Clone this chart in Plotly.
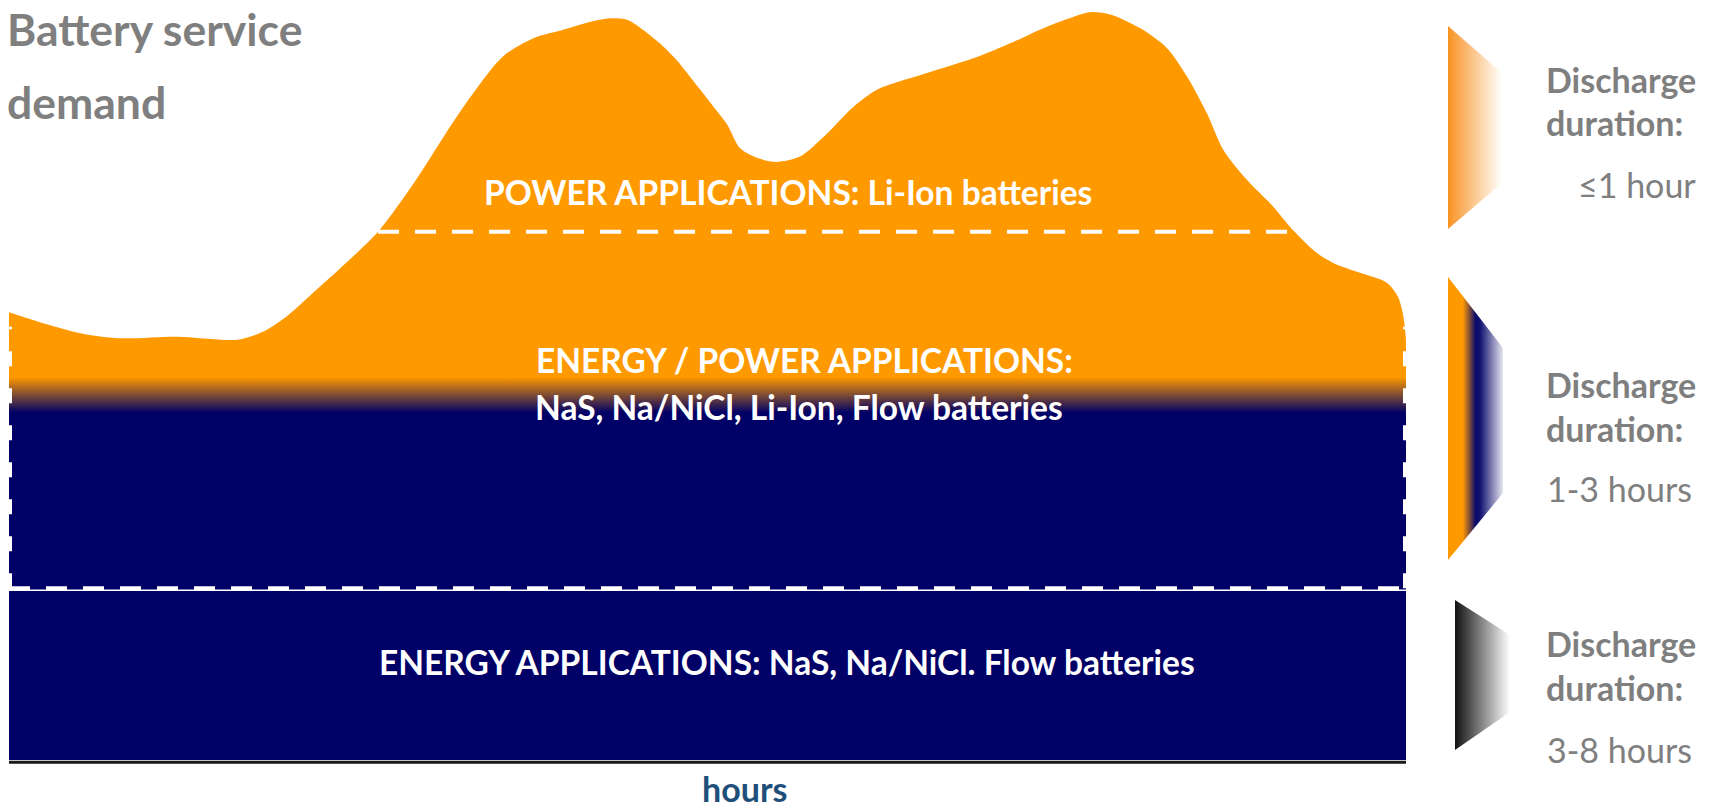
import numpy as np
import plotly.graph_objects as go

W, H = 1716, 807

# ---------------- data ----------------
hours = [0.00, 0.53, 1.20, 1.89, 2.90, 3.92, 4.35, 4.74, 5.17, 5.69, 6.34, 6.99, 7.75, 8.49,
         9.05, 9.48, 10.03, 10.32, 10.62, 10.89, 11.18, 11.48, 11.75, 12.09, 12.34, 12.56,
         12.90, 13.19, 13.59, 14.05, 14.50, 14.91, 15.77, 16.63, 17.20, 17.71, 18.18, 18.57,
         18.92, 19.43, 19.89, 20.24, 20.58, 20.86, 21.27, 21.72, 22.06, 22.47, 22.75, 23.21,
         23.67, 23.86, 23.95, 24.00]
demand = [58.9, 57.6, 56.2, 55.5, 55.7, 55.3, 56.3, 58.2, 61.1, 64.7, 69.5, 76.3, 85.3, 92.6,
          95.1, 96.0, 97.2, 97.6, 97.4, 96.1, 94.3, 92.0, 89.4, 86.1, 83.6, 80.5,
          79.1, 78.7, 79.4, 82.4, 85.9, 88.2, 90.4, 92.5, 94.3, 96.1, 97.5, 98.4,
          98.1, 96.3, 93.7, 89.9, 85.1, 80.3, 76.3, 72.8, 69.7, 66.7, 65.4, 64.1,
          62.8, 61.0, 58.6, 55.3]

energy_top = 22.6        # energy applications band upper limit
blend_low = 45.7         # energy/power blend start
blend_high = 50.4        # energy/power blend end
power_floor = 69.5       # power applications lower limit
edge_top = 57.0

band_labels = ["POWER APPLICATIONS: Li-Ion batteries",
               "ENERGY / POWER APPLICATIONS:",
               "NaS, Na/NiCl, Li-Ion, Flow batteries",
               "ENERGY APPLICATIONS: NaS, Na/NiCl. Flow batteries"]
duration_labels = ["\u22641 hour", "1-3 hours", "3-8 hours"]
title_lines = ["Battery service", "demand"]
x_title = "hours"

# ---------------- style ----------------
ORANGE = "#FF9900"
NAVY = "#000066"
GREY = "#7F7F7F"
FONT = "Lato"

PX_LEFT, PX_RIGHT = 9, 1406
PX_ZERO, PX_PER_UNIT = 760, 7.6
X_RANGE = [0, 24]
Y_RANGE = [-2, PX_ZERO / PX_PER_UNIT]


def P(px, py):
    return px / W, 1 - py / H


fig = go.Figure()

# main demand area with vertical blend navy -> orange
fig.add_trace(go.Scatter(
    x=hours, y=demand, mode="lines",
    line=dict(width=0, shape="spline", smoothing=0.8, color=ORANGE),
    fill="tozeroy",
    fillgradient=dict(type="vertical", start=0, stop=100,
                      colorscale=[[0, NAVY], [blend_low / 100, NAVY],
                                  [blend_high / 100, ORANGE], [1, ORANGE]]),
    hoverinfo="skip", showlegend=False))

h = np.array(hours)
d = np.array(demand)
i_min = int(np.argmin(d[:10]))
i_pk1 = int(np.argmax(d[:20]))
i_pk2 = int(np.argmax(d))
x_left = float(np.interp(power_floor, d[i_min:i_pk1 + 1], h[i_min:i_pk1 + 1]))
x_right = float(np.interp(power_floor, d[i_pk2:][::-1], h[i_pk2:][::-1]))

dash = "21px,16px"
# top dashed line (power floor)
fig.add_trace(go.Scatter(x=[x_left, x_right], y=[power_floor, power_floor], mode="lines",
                         line=dict(color="white", width=4, dash=dash),
                         hoverinfo="skip", showlegend=False))
# energy band dashed line
fig.add_trace(go.Scatter(x=X_RANGE, y=[energy_top - 0.25, energy_top - 0.25], mode="lines",
                         line=dict(color="white", width=1.5),
                         hoverinfo="skip", showlegend=False))
fig.add_trace(go.Scatter(x=X_RANGE, y=[energy_top, energy_top], mode="lines",
                         line=dict(color="white", width=4, dash=dash),
                         hoverinfo="skip", showlegend=False))
# vertical dashed edges
for xe in X_RANGE:
    fig.add_trace(go.Scatter(x=[xe, xe], y=[energy_top, edge_top], mode="lines",
                             line=dict(color="white", width=6, dash="15px,22px"),
                             hoverinfo="skip", showlegend=False))
# baseline
fig.add_trace(go.Scatter(x=X_RANGE, y=[-0.3, -0.3], mode="lines",
                         line=dict(color="#1a1a1a", width=3),
                         hoverinfo="skip", showlegend=False))

# ---------------- legend trapezoids (pixel axis) ----------------
traps = [
    dict(xl=1448, xr=1502, yl=(26, 229), yr=(73, 183),
         cs=[[0, "#F7931E"], [0.12, "#F9A040"], [1, "#FFFFFF"]]),
    dict(xl=1448, xr=1503, yl=(277, 560), yr=(348, 493),
         cs=[[0, "#FF9900"], [0.27, "#FF9900"], [0.40, "#7A4A3A"], [0.50, "#0A0A6A"],
             [0.58, "#101070"], [1, "#E6E6F0"]]),
    dict(xl=1455, xr=1510, yl=(600, 750), yr=(635, 712),
         cs=[[0, "#111111"], [1, "#FFFFFF"]]),
]
for t in traps:
    fig.add_trace(go.Scatter(
        x=[t["xl"], t["xr"], t["xr"], t["xl"], t["xl"]],
        y=[t["yl"][0], t["yr"][0], t["yr"][1], t["yl"][1], t["yl"][0]],
        mode="lines", line=dict(width=0), fill="toself",
        fillgradient=dict(type="horizontal", start=t["xl"], stop=t["xr"], colorscale=t["cs"]),
        xaxis="x2", yaxis="y2", hoverinfo="skip", showlegend=False))

# ---------------- annotations ----------------
ann = []


def add_text(text, px, py, size, color, xanchor="center", bold=True,
             box_h=None, yanchor="middle", valign="middle"):
    x, y = P(px, py)
    a = dict(text=f"<b>{text}</b>" if bold else text, x=x, y=y, xref="paper", yref="paper",
             xanchor=xanchor, yanchor=yanchor, showarrow=False,
             font=dict(family=FONT, size=size, color=color))
    if box_h:
        a["height"] = box_h
        a["borderpad"] = 0
        a["valign"] = valign
    ann.append(a)


add_text(title_lines[0], 5, 0, 44.5, GREY, "left", yanchor="top")
add_text(title_lines[1], 5, 102, 44.5, GREY, "left")
add_text(band_labels[0], 788, 192, 33.5, "white")
add_text(band_labels[1], 804, 360, 33.5, "white")
add_text(band_labels[2], 799, 407, 33.5, "white")
add_text(band_labels[3], 787, 662, 33.5, "white")
add_text(x_title, 744, 788, 34, "#1F4E79", box_h=28)

legend_rows = [(80, 122, 184, "right", 1698), (384, 428, 489, "left", 1545), (643, 687, 749, "left", 1545)]
for lab, (y1, y2, y3, anc, xx) in zip(duration_labels, legend_rows):
    add_text("Discharge", 1544, y1, 34, GREY, "left")
    add_text("duration:", 1544, y2, 34, GREY, "left")
    add_text(lab, xx, y3, 34, GREY, anc, bold=False)

fig.update_layout(
    width=W, height=H, margin=dict(l=0, r=0, t=0, b=0),
    paper_bgcolor="white", plot_bgcolor="rgba(0,0,0,0)",
    showlegend=False, annotations=ann,
    xaxis=dict(range=X_RANGE, domain=[PX_LEFT / W, PX_RIGHT / W], visible=False, fixedrange=True),
    yaxis=dict(range=Y_RANGE,
               domain=[1 - (PX_ZERO - Y_RANGE[0] * PX_PER_UNIT) / H, 1.0],
               visible=False, fixedrange=True),
    xaxis2=dict(range=[0, W], domain=[0, 1], visible=False, anchor="y2", fixedrange=True),
    yaxis2=dict(range=[H, 0], domain=[0, 1], visible=False, anchor="x2", fixedrange=True),
)

fig.write_html("out.html", config={"displayModeBar": False},
               post_script="document.body.style.margin='0px';document.body.style.overflow='hidden';")
